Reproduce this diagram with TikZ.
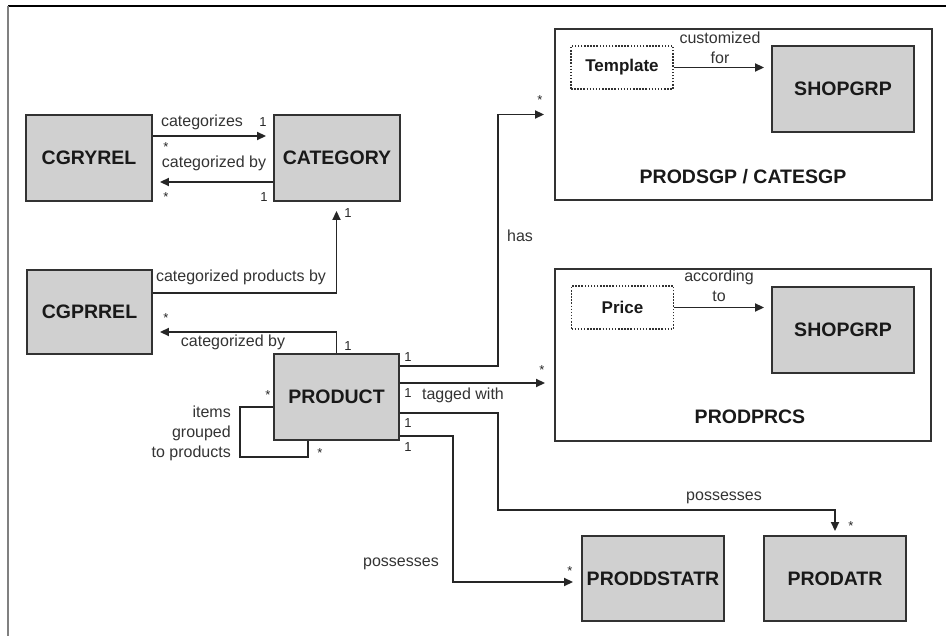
\documentclass[tikz,border=0pt]{standalone}
\usepackage{fontspec}
\setmainfont{Liberation Sans}
\usetikzlibrary{arrows.meta}
\definecolor{boxfill}{RGB}{208,208,208}
\definecolor{boxline}{RGB}{50,50,50}

\begin{document}
\begin{tikzpicture}[x=1pt,y=-1pt,
    entity/.style={draw=boxline,fill=boxfill,line width=1.9pt,text=black!90,
      font=\fontsize{19.5}{21}\selectfont\bfseries},
    group/.style={draw=boxline,line width=1.9pt,minimum width=377pt,minimum height=171pt},
    grouptitle/.style={font=\fontsize{19.5}{21}\selectfont\bfseries,text=black!90,inner sep=0pt},
    hint/.style={draw=boxline,line width=1.4pt,dash pattern=on 1.5pt off 1.6pt,
      minimum width=102pt,minimum height=43pt,font=\fontsize{17}{19}\selectfont\bfseries,text=black!90},
    conn/.style={draw=black!85,line width=1.8pt},
    rel/.style={conn,-{Triangle[length=9pt,width=8pt]},shorten >=7pt},
    lbl/.style={font=\fontsize{16}{20}\selectfont,text=black!80,inner sep=0pt,align=center},
    mult/.style={font=\fontsize{13}{13}\selectfont,text=black!85,inner sep=0pt}]
  \useasboundingbox (0,0) rectangle (946,636);
  \draw[black,line width=1.5pt] (8,6) -- (946,6);
  \draw[gray,line width=2.5pt] (8,6) -- (8,636);

  \node[group] (prodsgp) at (743.5,114.5) {};
  \node[group,minimum width=376pt,minimum height=172pt] (prodprcs) at (743,355) {};
  \node[grouptitle] (prodsgptitle) at (743,177) {PRODSGP / CATESGP};
  \node[grouptitle] (prodprcstitle) at (750,417) {PRODPRCS};

  \foreach \nm/\x/\y/\w/\h/\txt in {cgryrel/89/158/126/86/CGRYREL,
      category/337/158/126/86/CATEGORY, cgprrel/89.5/312/125/84/CGPRREL,
      product/336.5/397/125/86/PRODUCT, shopgrpa/843/89/142/86/SHOPGRP,
      shopgrpb/843/330/142/86/SHOPGRP, proddstatr/653/578.5/142/85/PRODDSTATR,
      prodatr/835/578.5/142/85/PRODATR}
    \node[entity,minimum width=\w*1pt,minimum height=\h*1pt] (\nm) at (\x,\y) {\txt};

  \node[hint] (template) at (622,67.5) {Template};
  \node[hint] (price) at (622.5,307.5) {Price};

  \draw[rel] ([yshift=22pt]cgryrel.east) -- ([yshift=22pt]category.west);
  \draw[rel] ([yshift=-24pt]category.west) -- ([yshift=-24pt]cgryrel.east);
  \draw[rel,shorten >=9pt] ([yshift=19pt]cgprrel.east) -| ([xshift=-0.5pt]category.south);
  \draw[rel] (product.north) |- ([yshift=-20pt]cgprrel.east);
  \draw[rel,shorten >=10pt] ([yshift=31pt]product.east) -- ++(98,0) |- (prodsgp.west);
  \draw[rel,shorten >=9pt] ([yshift=14pt]product.east) -- ([yshift=-28pt]prodprcs.west);
  \draw[rel,shorten >=4pt] ([yshift=-16pt]product.east) -- ++(98,0) -- ++(0,97) -| (prodatr.north);
  \draw[rel,shorten >=8pt] ([yshift=-39pt]product.east) -- ++(53,0) |- ([yshift=-3.5pt]proddstatr.west);
  \draw[conn] ([yshift=-10pt]product.west) -- ++(-33,0) -- ++(0,50) -| ([xshift=-28.5pt]product.south);
  \draw[rel] (template.east) -- (template.east -| shopgrpa.west);
  \draw[rel] (price.east) -- (price.east -| shopgrpb.west);

  \node[lbl] (lblcat) at (202,122) {categorizes};
  \node[lbl] (lblcatby) at (214,163) {categorized by};
  \node[lbl] (lblcatprod) at (241,277) {categorized products by};
  \node[lbl] (lblprodcat) at (233,342) {categorized by};
  \node[lbl] (lblhas) at (520,236) {has};
  \node[lbl] (lbltag) at (463,395) {tagged with};
  \node[lbl] (lblposa) at (724,498) {possesses};
  \node[lbl] (lblposb) at (401,564) {possesses};
  \node[lbl,align=right,anchor=east] (lblitems) at (231,433) {items\\grouped\\to products};
  \node[lbl] (lblcust) at (720,48) {customized\\for};
  \node[lbl] (lblacc) at (719,286) {according\\to};

  \foreach \x/\y/\m [count=\i] in {263/122/1, 166/147/*, 166/197/*, 264/197/1,
      348/213/1, 166/318/*, 348/346/1, 408/357/1, 540/100/*, 542/370/*,
      408/393/1, 408/423/1, 851/526/*, 408/447/1, 570/571/*, 268/395/*, 320/453/*}
    \node[mult] (mult\i) at (\x,\y) {\m};
\end{tikzpicture}
\end{document}
